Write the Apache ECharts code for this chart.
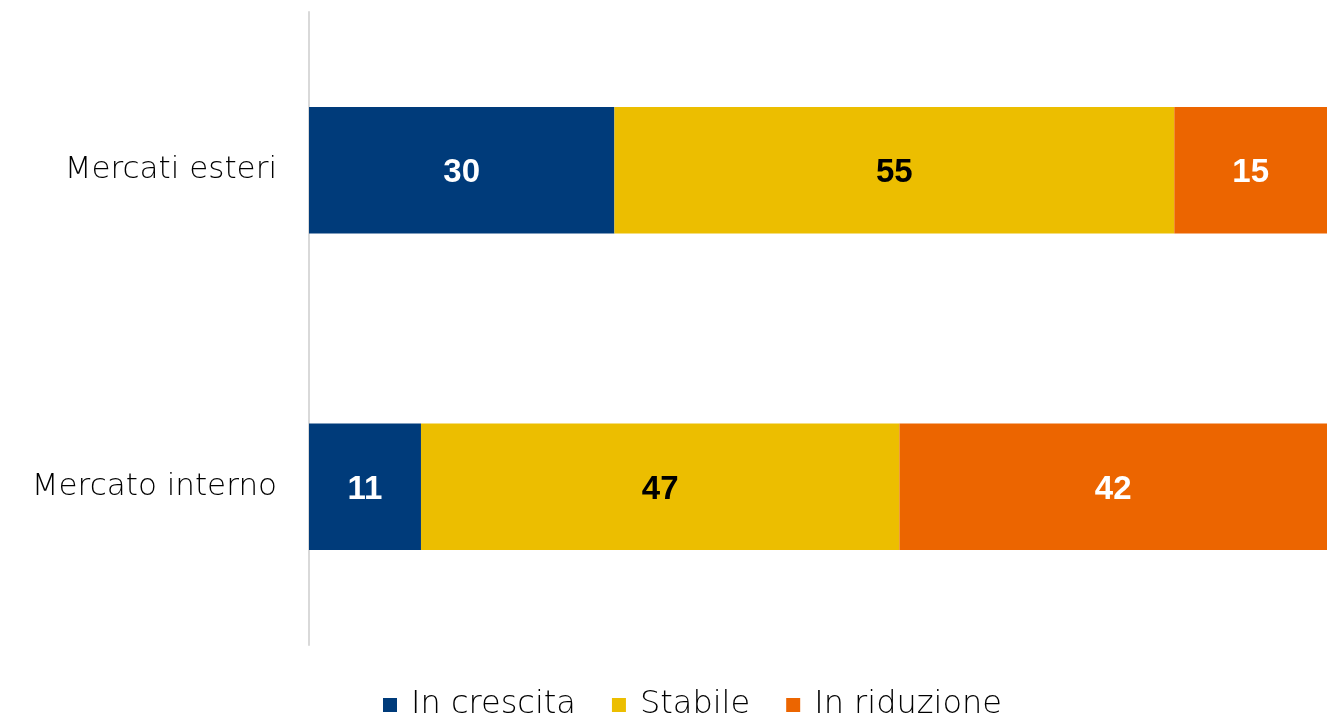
<!DOCTYPE html>
<html><head><meta charset="utf-8">
<script src="https://cdn.jsdelivr.net/npm/echarts@6/dist/echarts.min.js"></script>
<style>html,body{margin:0;padding:0;background:#fff}#c{width:1327px;height:720px}</style>
</head><body><div id="c"></div>
<script>
const categories = ['Mercato interno', 'Mercati esteri'];
const inCrescita = [11, 30];
const stabile = [47, 55];
const inRiduzione = [42, 15];
const seriesNames = ['In crescita', 'Stabile', 'In riduzione'];

const font = '"DejaVu Sans", sans-serif';
const labelFont = '"Liberation Sans Narrow", "Liberation Sans", sans-serif';
const chart = echarts.init(document.getElementById('c'));
function mk(name, data, color, labelColor) {
  return {
    name, type: 'bar', stack: 'total', data, barWidth: '40%',
    itemStyle: { color },
    label: { show: true, position: 'inside', color: labelColor, fontSize: 33, fontWeight: 'bold', fontFamily: labelFont, offset: [0, 3] },
    emphasis: { disabled: true }
  };
}
chart.setOption({
  animation: false,
  grid: { left: 309, right: 0, top: 12, bottom: 75 },
  xAxis: { type: 'value', min: 0, max: 100, show: false },
  yAxis: {
    type: 'category', data: categories,
    axisLine: { show: true, lineStyle: { color: '#D9D9D9', width: 2 } },
    axisTick: { show: false },
    axisLabel: { color: '#000', fontSize: 31, fontFamily: font, fontWeight: 200, margin: 32 }
  },
  legend: {
    bottom: -6, left: 378, itemWidth: 14, itemHeight: 14, itemGap: 36,
    icon: 'rect',
    textStyle: { fontSize: 32, fontFamily: font, fontWeight: 200, color: '#000', padding: [0, 0, 0, 9] },
    data: seriesNames
  },
  series: [
    mk(seriesNames[0], inCrescita, '#003B7A', '#fff'),
    mk(seriesNames[1], stabile, '#ECBE00', '#000'),
    mk(seriesNames[2], inRiduzione, '#EC6500', '#fff')
  ]
});
</script></body></html>
